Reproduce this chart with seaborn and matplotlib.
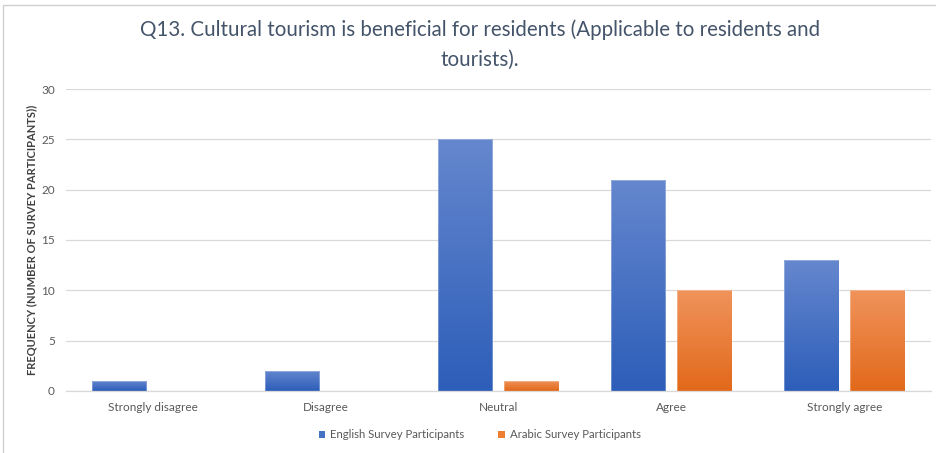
import numpy as np
import pandas as pd
import matplotlib
matplotlib.use("Agg")
import matplotlib.pyplot as plt
from matplotlib.colors import LinearSegmentedColormap
from matplotlib.patches import Patch
from matplotlib.lines import Line2D
import seaborn as sns

categories = ["Strongly disagree", "Disagree", "Neutral", "Agree", "Strongly agree"]
english = [1, 2, 25, 21, 13]
arabic = [0, 0, 1, 10, 10]
series_names = ["English Survey Participants", "Arabic Survey Participants"]

title = "Q13. Cultural tourism is beneficial for residents (Applicable to residents and\ntourists)."
ylabel = "FREQUENCY (NUMBER OF SURVEY PARTICIPANTS))"

df = pd.DataFrame({
    "response": categories * 2,
    "count": english + arabic,
    "survey": [series_names[0]] * len(categories) + [series_names[1]] * len(categories),
})

base_colors = {series_names[0]: "#4472C4", series_names[1]: "#ED7D31"}
grad = {
    series_names[0]: ("#2D5EB9", "#6587CE"),
    series_names[1]: ("#E2691A", "#F0935C"),
}

sns.set_theme(style="white")
plt.rcParams["font.family"] = ["Lato", "DejaVu Sans"]

fig = plt.figure(figsize=(9.37, 4.53), dpi=100)
ax = fig.add_axes([0.0704, 0.1369, 0.9232, 0.6666])

sns.barplot(data=df, x="response", y="count", hue="survey", order=categories,
            hue_order=series_names, palette=base_colors, width=0.77, gap=0.18,
            ax=ax, legend=False, saturation=1)

# vertical gradient fill per bar, light at the top
n = len(categories)
for i, patch in enumerate(ax.patches[:2 * n]):
    name = series_names[i // n]
    h = patch.get_height()
    if h <= 0:
        patch.set_visible(False)
        continue
    x0 = patch.get_x()
    w = patch.get_width()
    cmap = LinearSegmentedColormap.from_list(name, list(grad[name]))
    g = np.linspace(0, 1, 256).reshape(-1, 1)
    im = ax.imshow(g, cmap=cmap, aspect="auto", origin="lower",
                   extent=[x0, x0 + w, 0, h], zorder=2)
    im.set_clip_path(patch)
    patch.set_facecolor("none")
    patch.set_edgecolor((1, 1, 1, 0.35))
    patch.set_linewidth(0.6)
    patch.set_zorder(3)

ax.set_xlim(-0.5, n - 0.5)
ax.set_ylim(0, 30)
ax.set_yticks(range(0, 31, 5))
ax.yaxis.grid(True, color="#D9D9D9", linewidth=0.9)
ax.set_axisbelow(True)
for s in ["top", "right", "left"]:
    ax.spines[s].set_visible(False)
ax.spines["bottom"].set_color("#D9D9D9")
ax.spines["bottom"].set_linewidth(0.9)
ax.tick_params(axis="both", length=0, colors="#595959", labelsize=8.5)
ax.tick_params(axis="y", pad=8)
ax.tick_params(axis="x", pad=8)
ax.set_xlabel("")
ax.set_ylabel(ylabel, fontsize=8, fontweight="bold", color="#404040", labelpad=3)

fig.text(0.512, 1 - 45 / 453, title, ha="center", va="center", fontsize=14.8,
         color="#44546A", linespacing=1.62)

handles = [Patch(facecolor=base_colors[s], edgecolor="none") for s in series_names]
fig.legend(handles, series_names, loc="center", bbox_to_anchor=(0.512, 1 - 435 / 453),
           ncol=2, frameon=False, fontsize=8.2, handlelength=0.6, handleheight=0.6,
           handletextpad=0.4, columnspacing=3.0, labelcolor="#595959")

# light frame around the chart area
fig.add_artist(Line2D([3 / 937, 3 / 937], [0, 1 - 5 / 453], transform=fig.transFigure,
                      color="#D0D0D0", linewidth=1.0))
fig.add_artist(Line2D([3 / 937, 1], [1 - 5 / 453, 1 - 5 / 453], transform=fig.transFigure,
                      color="#D0D0D0", linewidth=1.0))

fig.savefig("out.png", dpi=100)
